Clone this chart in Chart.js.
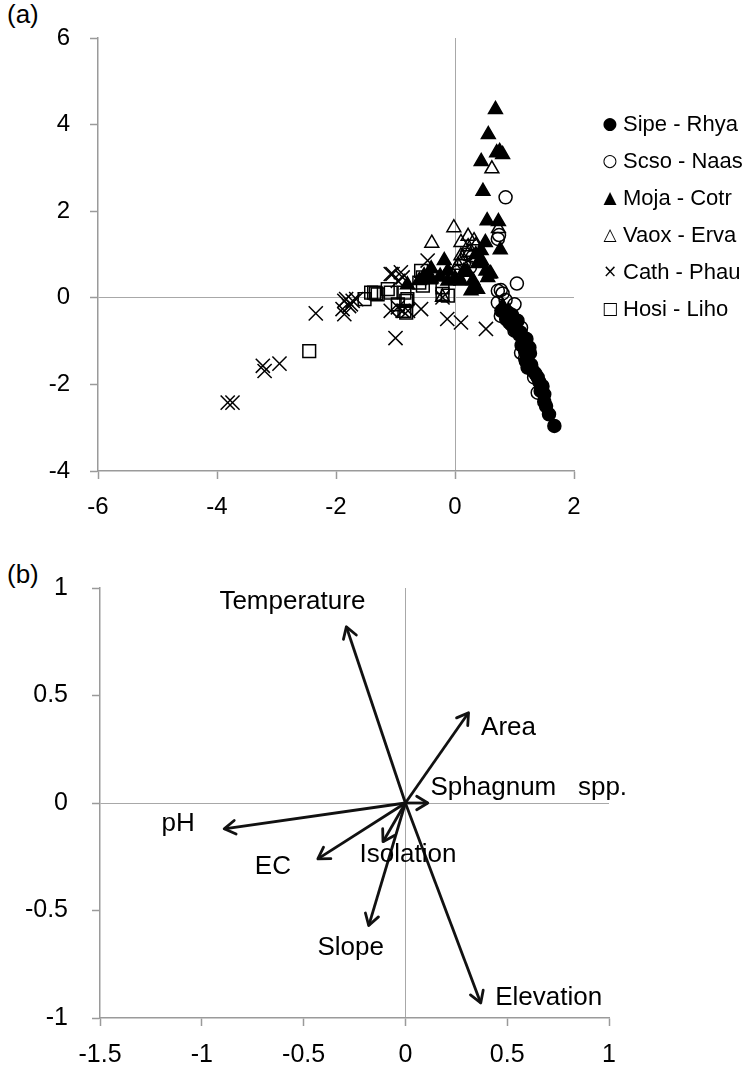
<!DOCTYPE html>
<html>
<head>
<meta charset="utf-8">
<script src="https://cdn.jsdelivr.net/npm/chart.js@4.4.1/dist/chart.umd.min.js"></script>
<style>
  html, body { margin: 0; padding: 0; background: #fff; }
  #page { position: relative; width: 747px; height: 1068px; font-family: "Liberation Sans", Arial, sans-serif; color: #000; }
  canvas { position: absolute; left: 0; }
  #ordination { top: 0; }
  #vectors { top: 540px; }
  .panel { position: absolute; left: 7px; font-size: 26px; line-height: 1; }
  #legend { position: absolute; left: 600px; top: 105px; font-size: 22px; }
  #legend div { height: 37px; line-height: 37px; white-space: nowrap; }
  #legend .mark { display: inline-block; width: 20px; text-align: center; font-family: "DejaVu Sans", sans-serif; font-size: 17px; margin-right: 3px; vertical-align: top; }
</style>
</head>
<body>
<div id="page">
  <div class="panel" style="top:1px">(a)</div>
  <canvas id="ordination" width="747" height="530"></canvas>
  <div id="legend"></div>
  <div class="panel" style="top:561px">(b)</div>
  <canvas id="vectors" width="747" height="528"></canvas>
</div>
<script>
// ---- panel (a): site scores by community type ----
const groups = ['Sipe - Rhya', 'Scso - Naas', 'Moja - Cotr', 'Vaox - Erva', 'Cath - Phau', 'Hosi - Liho'];

const sipeRhya = [[0.78,-0.30],[0.86,-0.49],[0.91,-0.57],[0.95,-0.62],[1.00,-0.69],[1.05,-0.53],[1.02,-0.75],[1.10,-0.80],
  [1.14,-1.03],[1.16,-0.92],[1.20,-0.95],[1.25,-1.15],[1.18,-1.25],[1.22,-1.35],[1.19,-1.46],[1.22,-1.61],[1.28,-1.55],
  [1.31,-1.69],[1.35,-1.75],[1.39,-1.84],[1.42,-1.95],[1.47,-2.04],[1.44,-2.15],[1.50,-2.23],[1.50,-2.40],[1.53,-2.50],
  [1.58,-2.69],[1.67,-2.96],[1.12,-1.10],[1.26,-1.28],[1.08,-0.85],[0.96,-0.40]];
const scsoNaas = [[0.85,2.32],[0.72,1.36],[0.74,1.45],[1.04,0.33],[0.77,0.18],[0.72,0.16],[0.80,0.10],[1.00,-0.15],
  [0.72,-0.11],[0.85,-0.05],[0.77,-0.42],[0.90,-0.35],[1.00,-0.76],[1.11,-0.69],[1.16,-1.00],[1.11,-1.27],[1.22,-1.30],
  [1.18,-1.40],[1.33,-1.84],[1.39,-2.19],[1.45,-2.05],[0.20,1.00],[0.30,0.95],[0.15,0.80],[0.25,0.70],[0.05,0.60],[-0.10,0.55]];
const mojaCotr = [[0.68,4.35],[0.56,3.77],[0.70,3.35],[0.80,3.31],[0.75,3.38],[0.44,3.15],[0.47,2.46],[0.54,1.78],
  [0.73,1.76],[0.51,1.28],[0.76,1.11],[0.44,1.09],[0.38,0.79],[0.60,0.56],[0.55,0.47],[-0.18,0.86],[-0.40,0.67],
  [-0.52,0.51],[-0.44,0.44],[-0.12,0.62],[0.10,0.39],[0.21,0.59],[0.27,0.16],[0.38,0.20],[0.52,0.62],[0.58,0.55],
  [0.15,0.62],[0.32,0.24],[-0.12,0.39],[-0.40,0.44],[0.80,-0.19],[0.90,-0.30],[0.30,0.40],[0.00,0.45],[-0.25,0.50],
  [-0.60,0.40],[-0.80,0.30],[0.45,0.85],[0.35,1.00]];
const vaoxErva = [[0.62,2.98],[-0.02,1.62],[-0.39,1.26],[0.22,1.42],[0.32,1.32],[0.10,1.28],[0.22,1.18],[0.10,0.97],
  [0.24,1.05],[0.10,0.86],[0.73,1.60],[-0.21,0.01],[0.05,0.75],[0.35,1.20]];
const cathPhau = [[-3.82,-2.42],[-3.74,-2.42],[-3.23,-1.57],[-3.20,-1.69],[-2.95,-1.52],[-2.34,-0.36],[-1.89,-0.26],
  [-1.86,-0.38],[-1.83,-0.03],[-1.75,-0.15],[-1.66,-0.03],[-1.86,-0.07],[-1.78,-0.19],[-1.72,-0.07],[-1.05,0.55],
  [-0.88,0.47],[-0.46,0.86],[-1.08,0.55],[-0.91,0.59],[-0.96,0.39],[-1.08,-0.30],[-0.96,-0.22],[-0.79,-0.30],
  [-0.57,-0.26],[-0.88,-0.30],[-0.13,-0.49],[0.10,-0.57],[-1.00,-0.93],[0.52,-0.72],[-0.21,0.01]];
const hosiLiho = [[-2.45,-1.23],[-1.52,-0.03],[-1.41,0.12],[-1.33,0.10],[-1.36,0.12],[-1.30,0.08],[-1.13,0.20],
  [-1.08,0.12],[-0.85,0.12],[-0.82,-0.07],[-0.82,-0.34],[-0.96,-0.15],[-0.80,-0.03],[-0.60,0.35],[-0.54,0.28],
  [-0.40,0.47],[-0.21,0.09],[-0.57,0.62],[-0.54,0.47],[-0.21,0.24],[-0.12,0.05],[-0.85,-0.30]];

const xTicksA = [-6, -4, -2, 0, 2];
const yTicksA = [-4, -2, 0, 2, 4, 6];

// ---- panel (b): environmental vectors ----
const variables = ['Temperature', 'Area', 'Sphagnum   spp.', 'pH', 'EC', 'Isolation', 'Slope', 'Elevation'];
const vecX = [-0.29, 0.31, 0.11, -0.89, -0.43, -0.11, -0.18, 0.37];
const vecY = [0.82, 0.42, 0.00, -0.12, -0.26, -0.18, -0.57, -0.93];

const xTicksB = [-1.5, -1, -0.5, 0, 0.5, 1];
const yTicksB = [-1, -0.5, 0, 0.5, 1];

// label placement relative to each arrow tip, in pixels
const labelOffsets = [[-54,-25],[40,15],[101,-15],[-46,-5],[-45,8],[25,13],[-18,22],[68,-5]];

const markers = [
  { style: 'circle',   radius: 6.5, fill: '#000',          glyph: '\u25CF' },
  { style: 'circle',   radius: 6.5, fill: 'rgba(0,0,0,0)', glyph: '\u25CB' },
  { style: 'triangle', radius: 8,   fill: '#000',          glyph: '\u25B2' },
  { style: 'triangle', radius: 8,   fill: 'rgba(0,0,0,0)', glyph: '\u25B3' },
  { style: 'crossRot', radius: 10,  fill: 'rgba(0,0,0,0)', glyph: '\u00D7' },
  { style: 'rect',     radius: 9,   fill: 'rgba(0,0,0,0)', glyph: '\u25A1' }
];

const FONT = '"Liberation Sans", Arial, sans-serif';
const AXIS_GREY = '#9a9a9a';

function makeAxis(ticks, fontSize, pad, fixedSize, horizontal) {
  return {
    type: 'linear',
    min: ticks[0],
    max: ticks[ticks.length - 1],
    afterBuildTicks: s => { s.ticks = ticks.map(v => ({ value: v })); },
    afterFit: s => { if (horizontal) s.height = fixedSize; else s.width = fixedSize; },
    border: { display: true, color: AXIS_GREY, width: 1.5 },
    grid: {
      drawOnChartArea: true,
      color: c => (c.tick && c.tick.value === 0) ? '#a8a8a8' : 'rgba(0,0,0,0)',
      lineWidth: 1,
      tickColor: AXIS_GREY,
      tickLength: 8,
      tickWidth: 1.5
    },
    ticks: {
      color: '#000',
      padding: pad,
      font: { family: FONT, size: fontSize },
      maxRotation: 0,
      autoSkip: false,
      callback: v => String(v)
    }
  };
}

const ordinationData = [sipeRhya, scsoNaas, mojaCotr, vaoxErva, cathPhau, hosiLiho];

new Chart(document.getElementById('ordination'), {
  type: 'scatter',
  data: {
    datasets: groups.map((g, i) => ({
      label: g,
      data: ordinationData[i].map(p => ({ x: p[0], y: p[1] })),
      pointStyle: markers[i].style,
      pointRadius: markers[i].radius,
      backgroundColor: markers[i].fill,
      borderColor: '#000',
      borderWidth: 1.5
    }))
  },
  options: {
    responsive: false,
    animation: false,
    layout: { padding: { top: 38, right: 173, left: 0, bottom: 0 } },
    plugins: { legend: { display: false }, tooltip: { enabled: false } },
    scales: {
      x: makeAxis(xTicksA, 24, 14, 59, true),
      y: makeAxis(yTicksA, 24, 20, 98, false)
    }
  }
});

// HTML legend for panel (a)
const legendEl = document.getElementById('legend');
groups.forEach((g, i) => {
  const row = document.createElement('div');
  const mark = document.createElement('span');
  mark.className = 'mark';
  mark.textContent = markers[i].glyph;
  row.appendChild(mark);
  row.appendChild(document.createTextNode(g));
  legendEl.appendChild(row);
});

// arrowheads and variable names for panel (b)
const vectorDecor = {
  id: 'vectorDecor',
  afterDatasetsDraw(chart) {
    const ctx = chart.ctx;
    const xs = chart.scales.x, ys = chart.scales.y;
    const ox = xs.getPixelForValue(0), oy = ys.getPixelForValue(0);
    ctx.save();
    ctx.strokeStyle = '#111';
    ctx.lineWidth = 2.8;
    ctx.lineCap = 'round';
    ctx.lineJoin = 'round';
    variables.forEach((name, i) => {
      const tx = xs.getPixelForValue(vecX[i]);
      const ty = ys.getPixelForValue(vecY[i]);
      const ang = Math.atan2(ty - oy, tx - ox);
      const len = 13, spread = 0.55;
      ctx.beginPath();
      ctx.moveTo(tx - len * Math.cos(ang - spread), ty - len * Math.sin(ang - spread));
      ctx.lineTo(tx, ty);
      ctx.lineTo(tx - len * Math.cos(ang + spread), ty - len * Math.sin(ang + spread));
      ctx.stroke();
    });
    ctx.fillStyle = '#000';
    ctx.font = '26px ' + FONT;
    ctx.textAlign = 'center';
    ctx.textBaseline = 'middle';
    variables.forEach((name, i) => {
      const tx = xs.getPixelForValue(vecX[i]);
      const ty = ys.getPixelForValue(vecY[i]);
      ctx.fillText(name, tx + labelOffsets[i][0], ty + labelOffsets[i][1]);
    });
    ctx.restore();
  }
};

new Chart(document.getElementById('vectors'), {
  type: 'scatter',
  data: {
    datasets: variables.map((name, i) => ({
      label: name,
      data: [{ x: 0, y: 0 }, { x: vecX[i], y: vecY[i] }],
      showLine: true,
      borderColor: '#111',
      borderWidth: 2.8,
      pointRadius: 0
    }))
  },
  options: {
    responsive: false,
    animation: false,
    layout: { padding: { top: 48, right: 138, left: 0, bottom: 0 } },
    plugins: { legend: { display: false }, tooltip: { enabled: false } },
    scales: {
      x: makeAxis(xTicksB, 25, 14, 50, true),
      y: makeAxis(yTicksB, 25, 24, 100, false)
    }
  },
  plugins: [vectorDecor]
});
</script>
</body>
</html>
